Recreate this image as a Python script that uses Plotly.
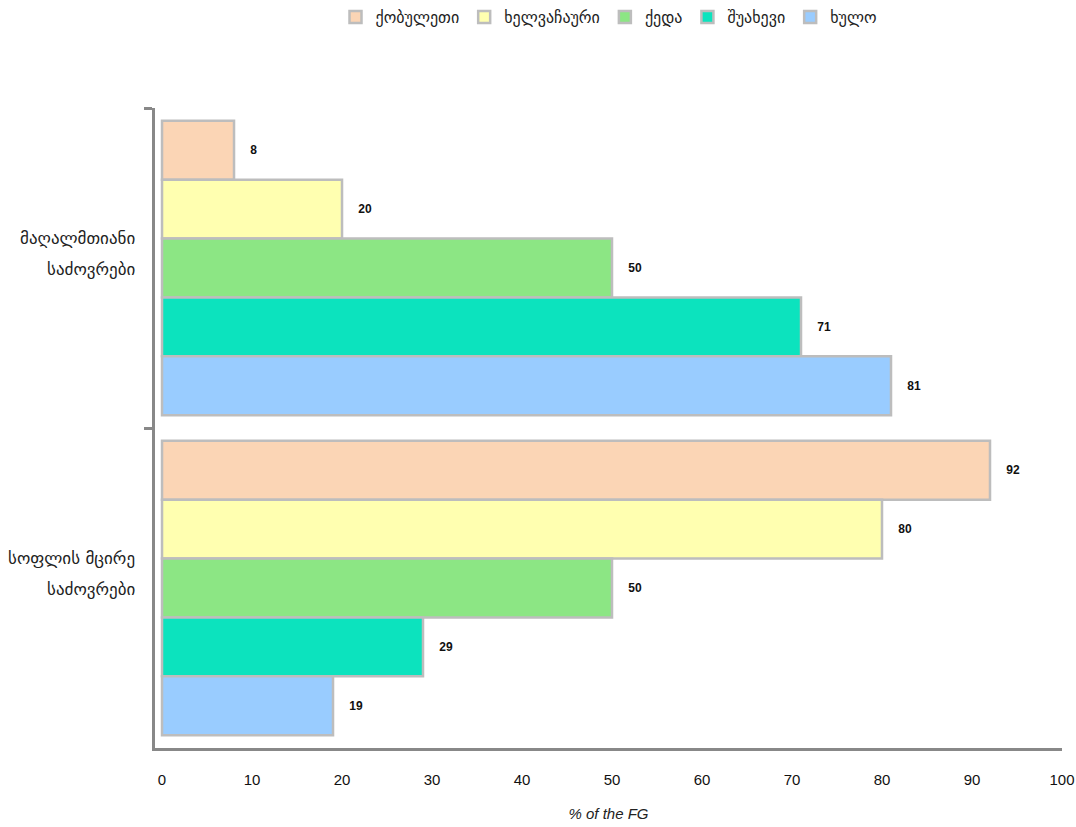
import plotly.graph_objects as go

categories = ["მაღალმთიანი საძოვრები", "სოფლის მცირე საძოვრები"]
label_lines = [["მაღალმთიანი", "საძოვრები"], ["სოფლის მცირე", "საძოვრები"]]
series_names = ["ქობულეთი", "ხელვაჩაური", "ქედა", "შუახევი", "ხულო"]
kobuleti = [8, 92]
khelvachauri = [20, 80]
keda = [50, 50]
shuakhevi = [71, 29]
khulo = [81, 19]
series_values = [kobuleti, khelvachauri, keda, shuakhevi, khulo]
colors = ["#FBD5B5", "#FFFFB0", "#8CE684", "#0CE3BE", "#99CCFF"]
x_ticks = [0, 10, 20, 30, 40, 50, 60, 70, 80, 90, 100]

fig = go.Figure()
for name, vals, col in zip(series_names, series_values, colors):
    fig.add_trace(go.Bar(
        y=categories, x=vals, name=name, orientation="h",
        marker=dict(color=col, line=dict(color="#BDBDBD", width=2.5)),
        text=vals, texttemplate="    <b>%{x}</b>", textposition="outside",
        textfont=dict(family="Liberation Sans, Arial", size=12, color="#111"),
        cliponaxis=False,
    ))

# two-line category labels with wide line spacing
for cat, lines in zip(categories, label_lines):
    for i, line in enumerate(lines):
        fig.add_annotation(
            x=0, xref="paper", xanchor="right", xshift=-18,
            y=cat, yref="y", yanchor="middle", yshift=30 - 31 * i,
            text=line, showarrow=False,
            font=dict(family="DejaVu Sans", size=17, color="#222"),
        )

fig.update_layout(
    width=1076, height=827,
    barmode="group", bargap=0.08, bargroupgap=0,
    plot_bgcolor="white", paper_bgcolor="white",
    margin=dict(l=155, r=14, t=108, b=79, autoexpand=False),
    legend=dict(orientation="h", x=0.5, xanchor="center", y=1.0, yref="container",
                yanchor="top", font=dict(family="DejaVu Sans", size=16, color="#222"),
                itemwidth=30, tracegroupgap=0),
    xaxis=dict(range=[-0.78, 100], tickvals=x_ticks, showgrid=False, zeroline=False,
               showline=True, linecolor="#888", linewidth=3, ticks="",
               ticklabelstandoff=16, automargin=False,
               tickfont=dict(family="Liberation Sans, Arial", size=15, color="#111"),
               title=dict(text="<i>% of the FG</i>", standoff=22,
                          font=dict(family="Liberation Sans, Arial", size=15, color="#222"))),
    yaxis=dict(autorange="reversed", showgrid=False, showline=True, linecolor="#888",
               linewidth=3, ticks="outside", tickson="boundaries", ticklen=8,
               tickcolor="#888", tickwidth=3, showticklabels=False, automargin=False),
    font=dict(family="DejaVu Sans"),
)
fig.write_html("out.html", config={"displayModeBar": False},
               post_script="document.body.style.margin='0';")
